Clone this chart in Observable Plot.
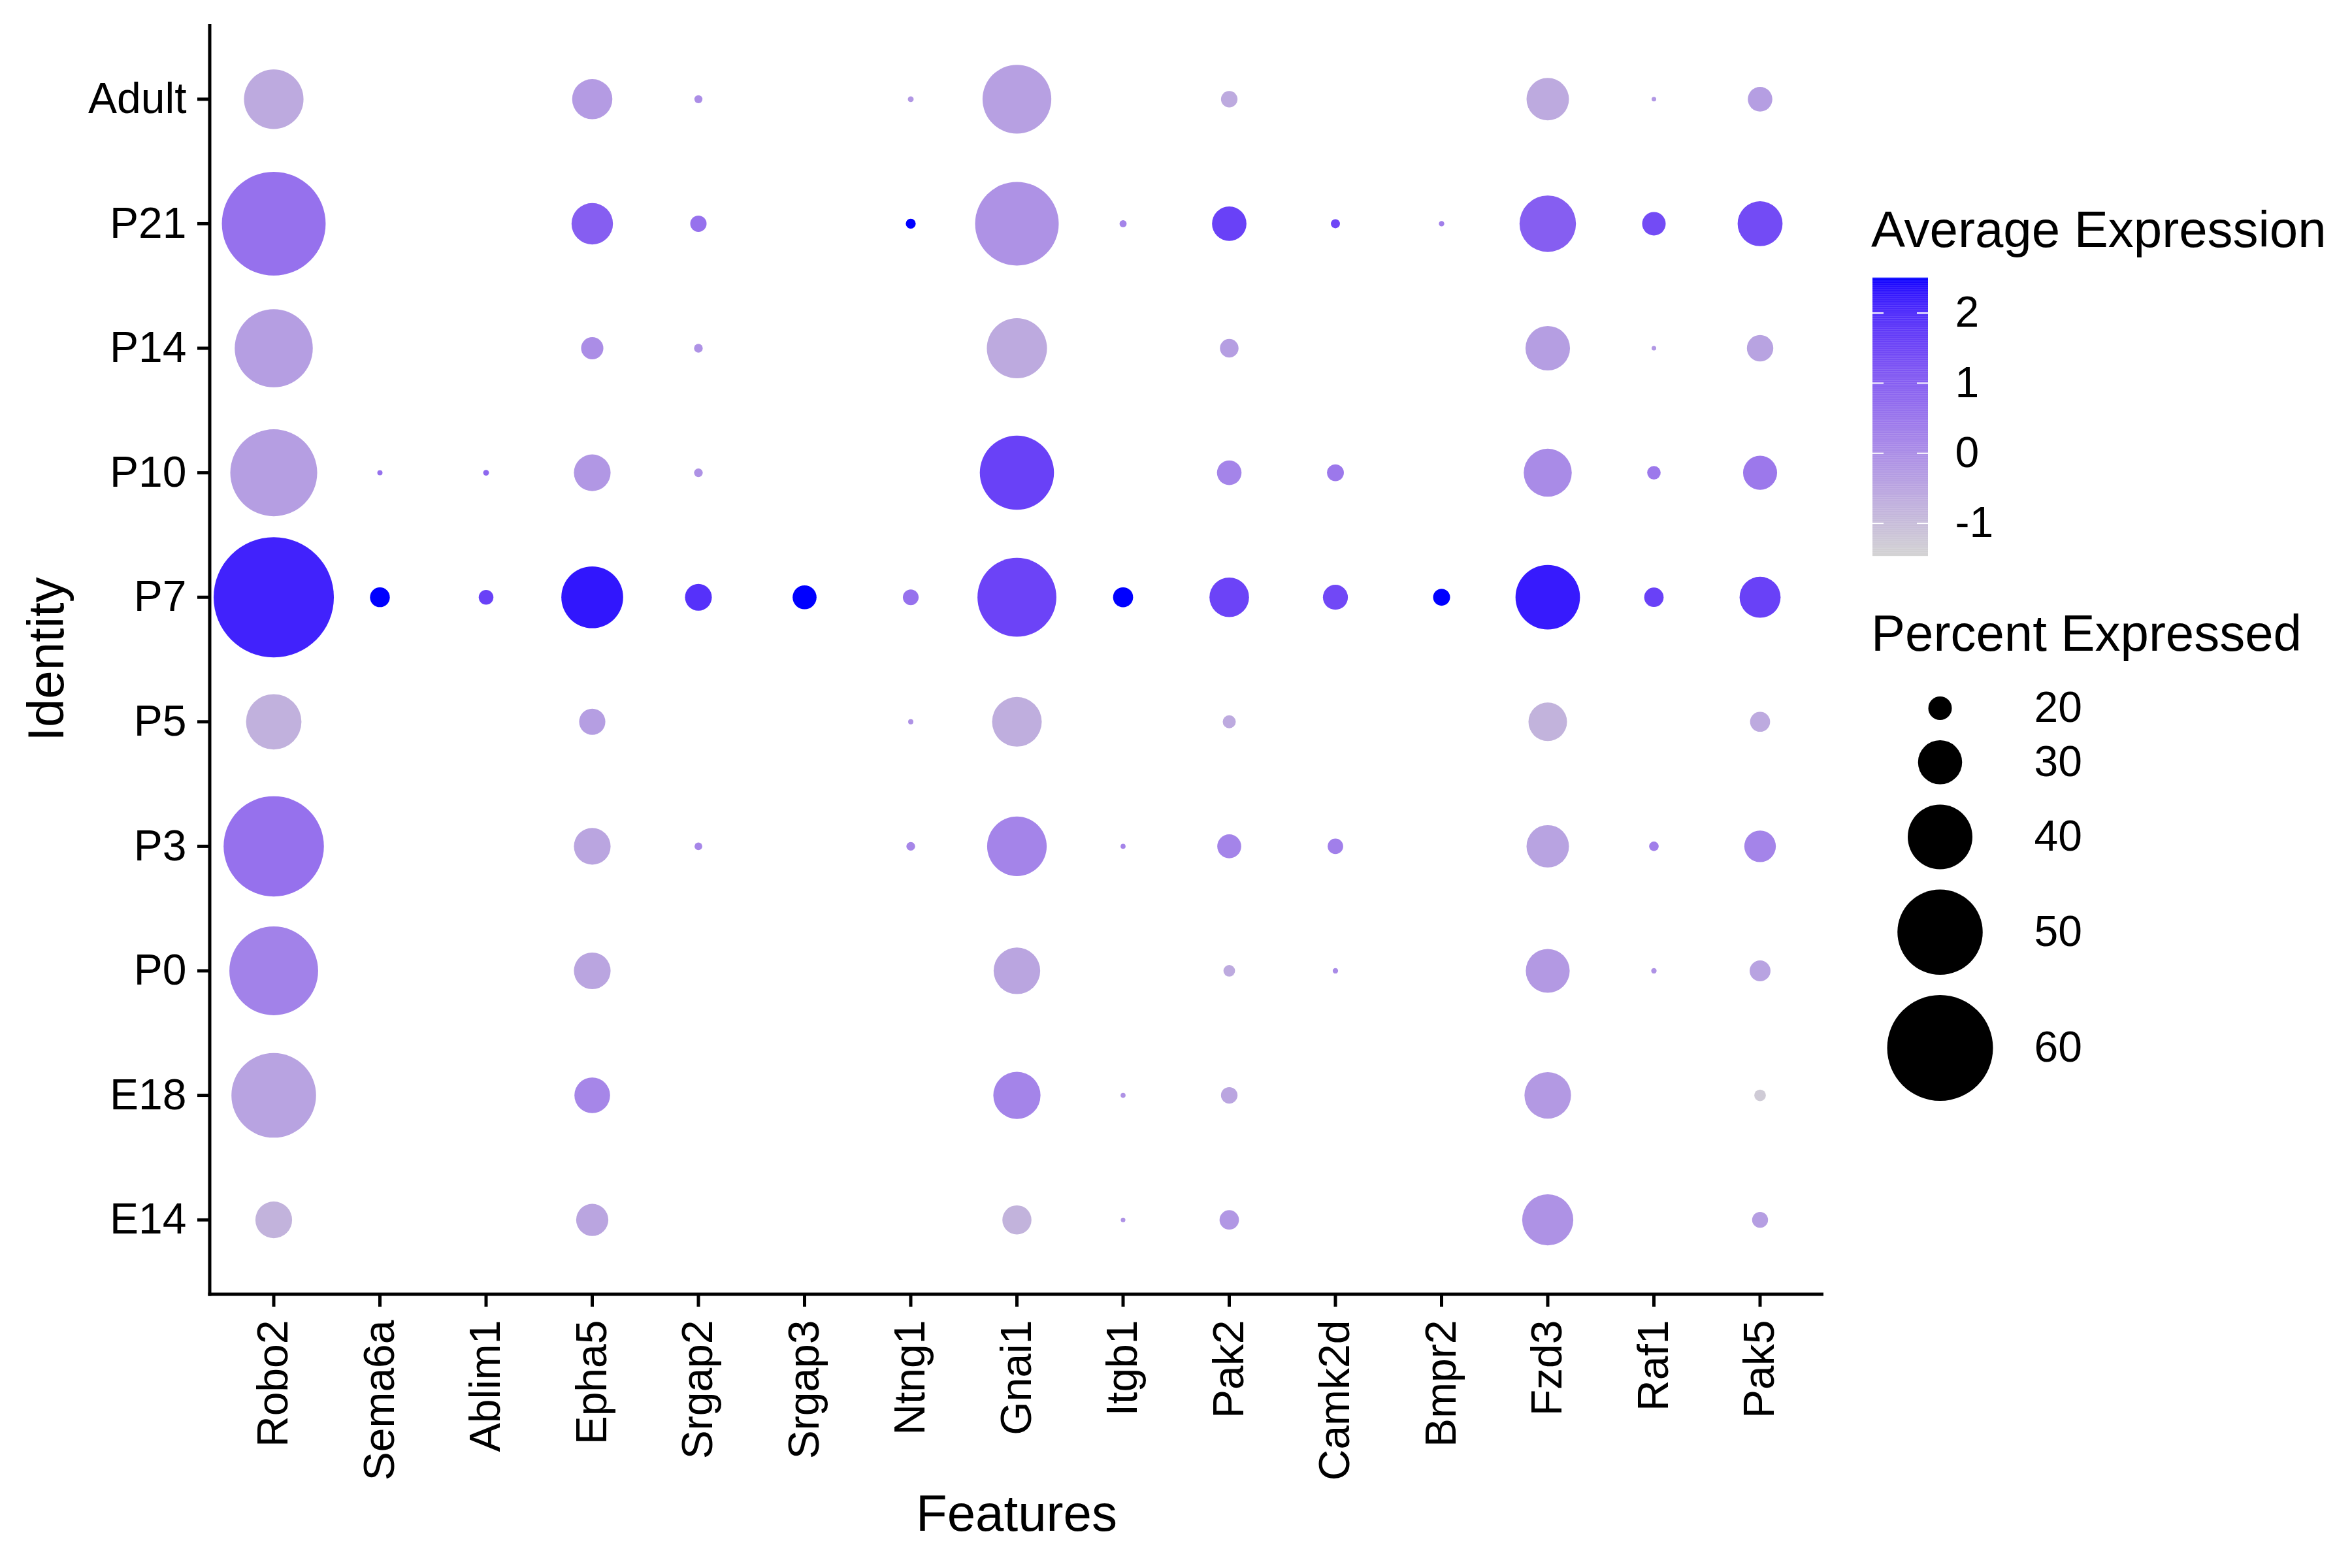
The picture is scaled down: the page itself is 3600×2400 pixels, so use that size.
<!DOCTYPE html>
<html><head><meta charset="utf-8">
<script src="https://cdn.jsdelivr.net/npm/d3@7"></script>
<script src="https://cdn.jsdelivr.net/npm/@observablehq/plot@0.6"></script>
<style>
html,body{margin:0;padding:0;background:#fff;overflow:hidden;}
#wrap{position:relative;width:3600px;height:2400px;overflow:hidden;font-family:"Liberation Sans",Arial,sans-serif;color:#000;}
#wrap > *{position:absolute;display:block;}
.ltitle{font-size:78px;line-height:78px;white-space:nowrap;}
</style></head><body><div id="wrap"></div>
<script>
const genes = ["Robo2","Sema6a","Ablim1","Epha5","Srgap2","Srgap3","Ntng1","Gnai1","Itgb1","Pak2","Camk2d","Bmpr2","Fzd3","Raf1","Pak5"];
const identities = ["Adult","P21","P14","P10","P7","P5","P3","P0","E18","E14"];

// Percent expressed (null = no dot)
const pctAdult = [37.5, null, null, 28.1, 12.5, null, 11.4, 42.0, null, 16.6, null, null, 29.2, 10.8, 20.5];
const pctP21   = [59.0, null, null, 28.7, 16.5, null, 13.4, 49.2, 12.0, 25.3, 13.0, 11.2, 36.0, 20.0, 30.4];
const pctP14   = [46.5, null, null, 19.4, 12.8, null, null, 37.8, null, 17.6, null, null, 30.2, 10.8, 21.4];
const pctP10   = [50.8, 11.1, 11.4, 26.4, 12.8, null, null, 44.6, null, 20.5, 16.8, null, 31.9, 15.1, 25.1];
const pctP7    = [67.0, 18.2, 15.7, 38.6, 21.6, 20.2, 16.2, 46.9, 18.3, 27.8, 20.7, 16.8, 39.9, 18.0, 28.5];
const pctP5    = [35.5, null, null, 21.3, null, null, 11.1, 32.7, null, 14.9, null, null, 27.3, null, 18.3];
const pctP3    = [57.3, null, null, 26.4, 12.3, null, 12.8, 37.5, 11.0, 20.2, 16.1, null, 29.2, 13.2, 23.9];
const pctP0    = [51.7, null, null, 26.4, null, null, null, 31.2, null, 14.2, 11.2, null, 29.9, 11.2, 18.7];
const pctE18   = [49.7, null, null, 25.9, null, null, null, 31.5, 11.0, 16.6, null, null, 31.2, null, 14.2];
const pctE14   = [26.4, null, null, 24.2, null, null, null, 22.7, 10.8, 18.0, null, null, 33.4, null, 16.3];

// Average expression (scaled)
const avgAdult = [-0.6, null, null, -0.3, 0.0, null, -0.2, -0.4, null, -0.6, null, null, -0.6, -0.2, -0.35];
const avgP21   = [0.6, null, null, 1.0, 0.6, null, 2.5, -0.1, 0.2, 1.6, 1.5, 0.3, 1.0, 1.4, 1.4];
const avgP14   = [-0.35, null, null, 0.0, -0.1, null, null, -0.6, null, -0.35, null, null, -0.35, -0.2, -0.45];
const avgP10   = [-0.35, 0.6, 0.8, -0.2, -0.1, null, null, 1.6, null, 0.2, 0.45, null, 0.05, 0.45, 0.45];
const avgP7    = [2.15, 2.5, 1.6, 2.3, 1.9, 2.5, 0.6, 1.55, 2.5, 1.55, 1.45, 2.5, 2.25, 1.6, 1.6];
const avgP5    = [-0.75, null, null, -0.35, null, null, -0.1, -0.7, null, -0.6, null, null, -0.8, null, -0.6];
const avgP3    = [0.6, null, null, -0.5, 0.15, null, 0.15, 0.2, 0.2, 0.2, 0.3, null, -0.45, 0.3, 0.2];
const avgP0    = [0.25, null, null, -0.5, null, null, null, -0.5, null, -0.6, 0.05, null, -0.25, -0.1, -0.45];
const avgE18   = [-0.45, null, null, 0.15, null, null, null, 0.2, -0.1, -0.5, null, null, -0.25, null, -1.3];
const avgE14   = [-0.8, null, null, -0.5, null, null, null, -0.8, -0.1, -0.2, null, null, -0.1, null, -0.35];

const avgDomain = [-1.47, 2.5];
const colorTicks = [-1, 0, 1, 2];
const pctDomain = [8.57, 60];
const sizeBreaks = [20, 30, 40, 50, 60];

const pctRows = [pctAdult, pctP21, pctP14, pctP10, pctP7, pctP5, pctP3, pctP0, pctE18, pctE14];
const avgRows = [avgAdult, avgP21, avgP14, avgP10, avgP7, avgP5, avgP3, avgP0, avgE18, avgE14];
const data = [];
identities.forEach((id, i) => genes.forEach((g, j) => {
  if (pctRows[i][j] != null) data.push({ident: id, gene: g, pct: pctRows[i][j], avg: avgRows[i][j]});
}));

const FONT = "'Liberation Sans', Arial, sans-serif";
const colorOpts = {type: "linear", domain: avgDomain, range: ["lightgrey", "blue"], interpolate: d3.interpolateLab};
const rOpts = {type: "linear", domain: pctDomain, range: [0, 81]};

const W = 3600, H = 2400;
const main = Plot.plot({
  width: W, height: H,
  marginLeft: 321, marginRight: 809, marginTop: 37, marginBottom: 419,
  style: {fontFamily: FONT, color: "#000", background: "transparent"},
  x: {type: "point", domain: genes, padding: 0.6, round: false},
  y: {type: "point", domain: identities, padding: 0.6, round: false},
  color: colorOpts,
  r: rOpts,
  marks: [
    Plot.dot(data, {x: "gene", y: "ident", r: "pct", fill: "avg"}),
    Plot.axisX({tickRotate: -90, tickSize: 19, tickPadding: 20, fontSize: 66, strokeWidth: 5, label: null}),
    Plot.axisY({tickSize: 19, tickPadding: 17, fontSize: 66, strokeWidth: 5, label: null})
  ]
});
const wrap = document.getElementById("wrap");
main.style.left = "0px"; main.style.top = "0px";
wrap.appendChild(main);

// axis lines and titles
const xr = main.scale("x").range, yr = main.scale("y").range;
const svg = d3.select(main);
svg.append("line").attr("x1", xr[0]).attr("x2", xr[0]).attr("y1", yr[0]).attr("y2", yr[1] + 2.5)
  .attr("stroke", "black").attr("stroke-width", 5);
svg.append("line").attr("x1", xr[0] - 2.5).attr("x2", xr[1]).attr("y1", yr[1]).attr("y2", yr[1])
  .attr("stroke", "black").attr("stroke-width", 5);
svg.append("text").text("Identity")
  .attr("transform", `translate(97,${(yr[0] + yr[1]) / 2}) rotate(-90)`)
  .attr("text-anchor", "middle").attr("font-size", 78).attr("fill", "black").attr("font-family", FONT);
svg.append("text").text("Features")
  .attr("x", (xr[0] + xr[1]) / 2).attr("y", 2343)
  .attr("text-anchor", "middle").attr("font-size", 78).attr("fill", "black").attr("font-family", FONT);

// Colour legend
const t1 = document.createElement("div");
t1.className = "ltitle"; t1.textContent = "Average Expression";
t1.style.left = "2864px"; t1.style.top = "312px";
wrap.appendChild(t1);

const nSteps = 300;
const [lo, hi] = avgDomain;
const stepV = (hi - lo) / nSteps;
const steps = d3.range(nSteps).map(i => lo + (i + 0.5) * stepV);
const cbar = Plot.plot({
  width: 300, height: 426,
  marginLeft: 0, marginRight: 215, marginTop: 0, marginBottom: 0,
  style: {fontFamily: FONT, color: "#000", background: "transparent", overflow: "visible"},
  x: {domain: [0, 1], axis: null},
  y: {domain: avgDomain},
  color: colorOpts,
  marks: [
    Plot.rect(steps, {x1: 0, x2: 1, y1: d => d - stepV * 0.6, y2: d => d + stepV * 0.6, fill: d => d}),
    Plot.ruleY(colorTicks, {x1: 0, x2: 0.2, stroke: "white", strokeWidth: 2}),
    Plot.ruleY(colorTicks, {x1: 0.8, x2: 1, stroke: "white", strokeWidth: 2}),
    Plot.axisY({anchor: "right", ticks: colorTicks, tickSize: 0, tickPadding: 41, fontSize: 66, label: null,
      tickFormat: d => (d < 0 ? "-" + Math.abs(d) : String(d))})
  ]
});
cbar.style.left = "2866px"; cbar.style.top = "425px";
wrap.appendChild(cbar);

// Size legend
const t2 = document.createElement("div");
t2.className = "ltitle"; t2.textContent = "Percent Expressed";
t2.style.left = "2864px"; t2.style.top = "930px";
wrap.appendChild(t2);

const rs = main.scale("r");
const rad = sizeBreaks.map(v => rs.apply(v));
const keyPad = 31;
const hs = rad.map(r => 2 * r + keyPad);
const cys = [];
let acc = hs[0] / 2; cys.push(acc);
for (let i = 1; i < hs.length; i++) { acc += (hs[i - 1] + hs[i]) / 2; cys.push(acc); }
const cx = d3.max(rad) + 48;
const labelX = cx + 144;
const sizeData = sizeBreaks.map((v, i) => ({v, y: cys[i]}));
const sleg = Plot.plot({
  width: 460, height: Math.ceil(acc + hs[hs.length - 1] / 2 + 10),
  margin: 0,
  axis: null,
  style: {fontFamily: FONT, color: "#000", background: "transparent", overflow: "visible"},
  x: {type: "identity", axis: null}, y: {type: "identity", axis: null},
  r: rOpts,
  marks: [
    Plot.dot(sizeData, {x: () => cx, y: "y", r: "v", fill: "black"}),
    Plot.text(sizeData, {x: () => labelX, y: "y", text: d => String(d.v), textAnchor: "start", fontSize: 66, fill: "black"})
  ]
});
sleg.style.left = "2840px"; sleg.style.top = (1084 - cys[0]) + "px";
wrap.appendChild(sleg);
</script></body></html>
